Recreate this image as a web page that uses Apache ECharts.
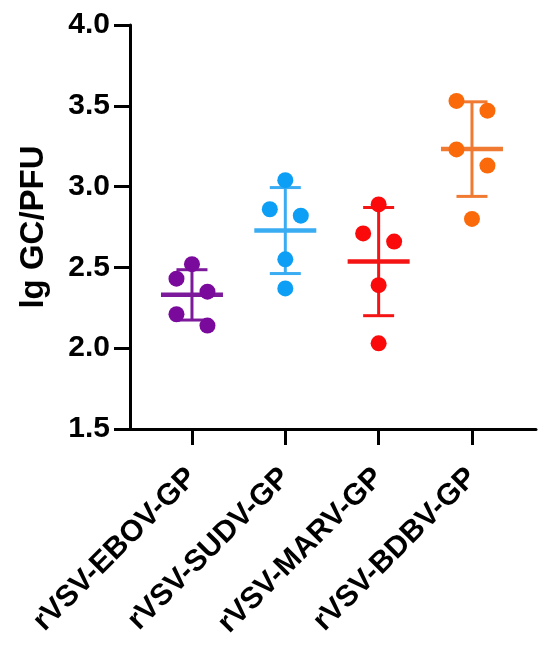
<!DOCTYPE html>
<html>
<head>
<meta charset="utf-8">
<style>
  html, body { margin: 0; padding: 0; background: #fff; }
  #main { width: 550px; height: 647px; }
</style>
<script src="https://cdn.jsdelivr.net/npm/echarts@6/dist/echarts.min.js"></script>
</head>
<body>
<div id="main"></div>
<script>
// groups and their replicate values (lg GC/PFU)
var categories = ['rVSV-EBOV-GP', 'rVSV-SUDV-GP', 'rVSV-MARV-GP', 'rVSV-BDBV-GP']
var ebov = [2.52, 2.43, 2.35, 2.21, 2.14]
var sudv = [3.04, 2.86, 2.82, 2.55, 2.37]
var marv = [2.89, 2.71, 2.66, 2.39, 2.03]
var bdbv = [3.53, 3.47, 3.23, 3.13, 2.80]
// scatter spread pattern inside each column (-1 left, 0 centre, 1 right)
var jitter = [
  [0, -1, 1, -1, 1],
  [0, -1, 1, 0, 0],
  [0, -1, 1, 0, 0],
  [-1, 1, -1, 1, 0]
]
var yTicks = [1.5, 2.0, 2.5, 3.0, 3.5, 4.0]

var groups = [ebov, sudv, marv, bdbv]
var dotColors = ['#7a0a9c', '#0c9ff5', '#fa0a0a', '#fa6a0a']
var lineColors = ['#7d1a9c', '#3aacf2', '#f51414', '#f07a32']
var font = '"Liberation Sans", Arial, sans-serif'
var spread = 0.166

function mean (a) {
  var s = 0
  a.forEach(function (v) { s += v })
  return s / a.length
}
function sd (a) {
  var m = mean(a), s = 0
  a.forEach(function (v) { s += (v - m) * (v - m) })
  return Math.sqrt(s / (a.length - 1))
}

var series = []
groups.forEach(function (vals, gi) {
  var m = mean(vals), d = sd(vals)
  series.push({
    type: 'custom',
    z: 2,
    silent: true,
    itemStyle: {color: lineColors[gi]},
    data: [[gi + 1, m, m - d, m + d]],
    renderItem: function (params, api) {
      var c = api.visual('color')
      var pm = api.coord([api.value(0), api.value(1)])
      var lo = api.coord([api.value(0), api.value(2)])
      var hi = api.coord([api.value(0), api.value(3)])
      var st = {stroke: c, lineWidth: 3}
      return {
        type: 'group',
        children: [
          {type: 'line', shape: {x1: lo[0], y1: lo[1], x2: hi[0], y2: hi[1]}, style: st},
          {type: 'line', shape: {x1: hi[0] - 15.5, y1: hi[1], x2: hi[0] + 15.5, y2: hi[1]}, style: st},
          {type: 'line', shape: {x1: lo[0] - 15.5, y1: lo[1], x2: lo[0] + 15.5, y2: lo[1]}, style: st},
          {type: 'line', shape: {x1: pm[0] - 31, y1: pm[1], x2: pm[0] + 31, y2: pm[1]}, style: {stroke: c, lineWidth: 4.5}}
        ]
      }
    }
  })
  series.push({
    type: 'scatter',
    z: 3,
    symbolSize: 16,
    itemStyle: {color: dotColors[gi], opacity: 1},
    data: vals.map(function (v, i) { return [gi + 1 + jitter[gi][i] * spread, v] })
  })
})

var chart = echarts.init(document.getElementById('main'))
chart.setOption({
  animation: false,
  backgroundColor: '#fff',
  grid: {left: 130, right: 14, top: 25, bottom: 218, outerBoundsMode: 'none'},
  xAxis: {
    type: 'value',
    min: 0.336,
    max: 4.686,
    splitLine: {show: false},
    axisLine: {lineStyle: {color: '#000', width: 3}},
    axisTick: {
      customValues: [1, 2, 3, 4],
      length: 16,
      lineStyle: {color: '#000', width: 3}
    },
    axisLabel: {
      customValues: [1, 2, 3, 4],
      rotate: 45,
      margin: 44,
      color: '#000',
      fontFamily: font,
      fontWeight: 'bold',
      fontSize: 30,
      formatter: function (v) { return categories[Math.round(v) - 1] }
    }
  },
  yAxis: {
    type: 'value',
    min: yTicks[0],
    max: yTicks[yTicks.length - 1],
    interval: 0.5,
    name: 'lg GC/PFU',
    nameLocation: 'middle',
    nameGap: 80,
    nameTextStyle: {color: '#000', fontFamily: font, fontWeight: 'bold', fontSize: 33},
    splitLine: {show: false},
    axisLine: {show: true, lineStyle: {color: '#000', width: 3}},
    axisTick: {show: true, length: 16, lineStyle: {color: '#000', width: 3}},
    axisLabel: {
      margin: 20,
      color: '#000',
      fontFamily: font,
      fontWeight: 'bold',
      fontSize: 30,
      formatter: function (v) { return v.toFixed(1) }
    }
  },
  series: series
})
</script>
</body>
</html>
